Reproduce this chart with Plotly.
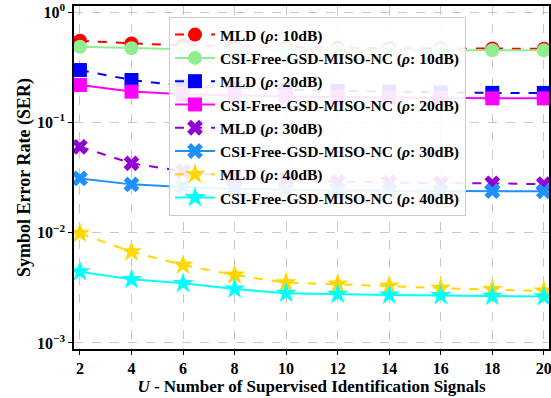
import plotly.graph_objects as go

U = [2, 4, 6, 8, 10, 12, 14, 16, 18, 20]

mld_10 = [0.55, 0.52, 0.50, 0.49, 0.48, 0.475, 0.47, 0.47, 0.468, 0.465]
csi_10 = [0.485, 0.47, 0.46, 0.455, 0.452, 0.45, 0.45, 0.45, 0.45, 0.45]
mld_20 = [0.298, 0.242, 0.215, 0.205, 0.198, 0.193, 0.19, 0.187, 0.185, 0.185]
csi_20 = [0.218, 0.19, 0.18, 0.175, 0.172, 0.17, 0.168, 0.166, 0.165, 0.165]
mld_30 = [0.060, 0.0425, 0.036, 0.032, 0.030, 0.029, 0.0285, 0.028, 0.028, 0.0275]
csi_30 = [0.031, 0.0274, 0.026, 0.025, 0.0245, 0.024, 0.024, 0.024, 0.0238, 0.0237]
mld_40 = [0.00986, 0.00671, 0.00508, 0.00413, 0.00352, 0.00342, 0.00328, 0.00313, 0.00306, 0.00296]
csi_40 = [0.00442, 0.00377, 0.00347, 0.00308, 0.00282, 0.00276, 0.00272, 0.00269, 0.00265, 0.00263]

series = [
    ("MLD (<i>ρ</i>: 10dB)", mld_10, "red", "circle", "dash"),
    ("CSI-Free-GSD-MISO-NC (<i>ρ</i>: 10dB)", csi_10, "lightgreen", "circle", "solid"),
    ("MLD (<i>ρ</i>: 20dB)", mld_20, "blue", "square", "dash"),
    ("CSI-Free-GSD-MISO-NC (<i>ρ</i>: 20dB)", csi_20, "magenta", "square", "solid"),
    ("MLD (<i>ρ</i>: 30dB)", mld_30, "darkviolet", "x", "dash"),
    ("CSI-Free-GSD-MISO-NC (<i>ρ</i>: 30dB)", csi_30, "dodgerblue", "x", "solid"),
    ("MLD (<i>ρ</i>: 40dB)", mld_40, "gold", "star", "dash"),
    ("CSI-Free-GSD-MISO-NC (<i>ρ</i>: 40dB)", csi_40, "cyan", "star", "solid"),
]

ytickvals = [1, 0.1, 0.01, 0.001]
yticktext = ["<b>10<sup>0</sup></b>", "<b>10<sup>−1</sup></b>", "<b>10<sup>−2</sup></b>", "<b>10<sup>−3</sup></b>"]

fig = go.Figure()
for name, vals, color, sym, dash in series:
    fig.add_trace(go.Scatter(
        x=U, y=vals, name="<b>" + name + "</b>", mode="lines+markers",
        line=dict(color=color, width=2, dash=dash),
        marker=dict(symbol=sym, size=14 if sym != "star" else 16, color=color,
                    line=dict(width=0)),
    ))

font_family = "Liberation Serif, Times New Roman, serif"
fig.update_layout(
    width=551, height=398,
    margin=dict(l=74, r=2, t=6, b=49, autoexpand=False),
    paper_bgcolor="white", plot_bgcolor="white",
    font=dict(family=font_family, size=16, color="black"),
    legend=dict(
        x=0.2, y=0.968, xanchor="left", yanchor="top",
        bgcolor="rgba(255,255,255,0.9)", bordercolor="#cccccc", borderwidth=1,
        font=dict(family=font_family, size=15.6, color="black"),
        tracegroupgap=0, itemwidth=40,
    ),
    showlegend=True,
)
fig.update_xaxes(
    range=[1.77, 20.2], tickvals=U, ticktext=["<b>%d</b>" % u for u in U],
    showgrid=True, gridcolor="#c8c8c8", griddash="dash", gridwidth=1,
    showline=True, linecolor="black", linewidth=1.5, mirror=True,
    ticks="outside", ticklen=4, tickcolor="black", zeroline=False,
    tickfont=dict(size=16), ticklabeloverflow="allow",
    title=dict(text="<b><i>U</i> - Number of Supervised Identification Signals</b>",
               font=dict(size=17), standoff=2),
)
fig.update_yaxes(
    type="log", range=[-3.055, 0.055], tickvals=ytickvals, ticktext=yticktext,
    showgrid=True, gridcolor="#c8c8c8", griddash="dash", gridwidth=1,
    showline=True, linecolor="black", linewidth=1.5, mirror=True,
    ticks="outside", ticklen=4, tickcolor="black", zeroline=False,
    tickfont=dict(size=16),
    title=dict(text="<b>Symbol Error Rate (SER)</b>", font=dict(size=18), standoff=2),
)

fig.write_html("out.html", config={"displayModeBar": False},
               post_script="document.body.style.margin='0';")
